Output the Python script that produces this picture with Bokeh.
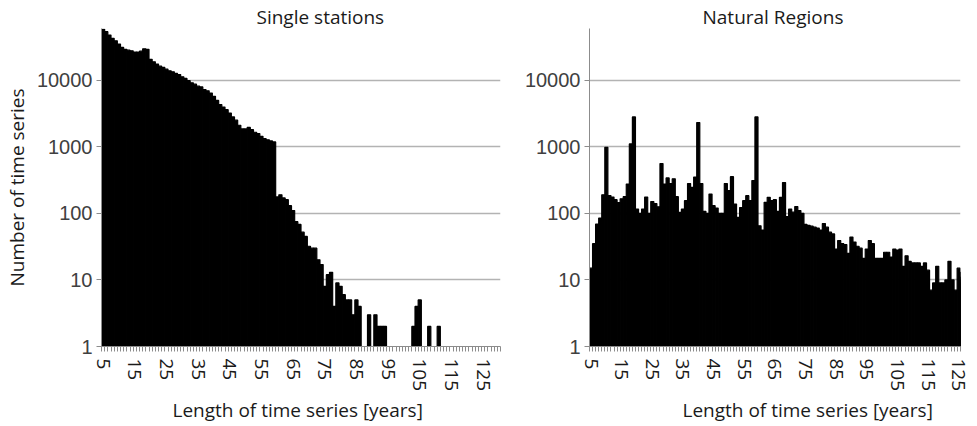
from bokeh.plotting import figure
from bokeh.models import Range1d, FixedTicker, Title, ColumnDataSource, CDSView, BooleanFilter
from bokeh.layouts import row
from bokeh.embed import file_html
from bokeh.resources import INLINE

years = list(range(5, 131))

single_stations = [
    57800, 53300, 47500, 42400, 39000, 34800, 31000, 29000, 28200, 27600,   # 5-14
    26400, 26400, 27200, 29600, 29000, 20500, 18800, 17400, 16200, 15500,   # 15-24
    14600, 13800, 13300, 12600, 12100, 11200, 10600, 9800, 9100, 8700,      # 25-34
    8100, 7900, 7200, 6900, 6400, 5700, 4950, 4300, 3950, 3600,             # 35-44
    3200, 2800, 2500, 2100, 1850, 1850, 1950, 1800, 1650, 1580,             # 45-54
    1430, 1320, 1270, 1220, 1180, 176, 190, 170, 160, 130,                  # 55-64
    110, 75, 68, 52, 45, 32, 30, 30, 20, 17,                                # 65-74
    8, 12, 13, 4, 9, 8, 6, 5, 5, 3,                                         # 75-84
    5, 4, 1, 1, 3, 1, 3, 2, 2, 2,                                           # 85-94
    1, 1, 1, 1, 1, 1, 1, 1, 2, 4,                                           # 95-104
    5, 1, 1, 2, 1, 1, 2, 1, 1, 1,                                           # 105-114
    1, 1, 1, 1, 1, 1, 1, 1, 1, 1,                                           # 115-124
    1, 1, 1, 1, 1, 1,                                                       # 125-130
]

natural_regions = [
    15, 35, 69, 85, 190, 980, 185, 175, 160, 145,                           # 5-14
    165, 178, 275, 1100, 2800, 116, 100, 116, 175, 100,                     # 15-24
    150, 140, 125, 560, 275, 340, 280, 330, 178, 103,                       # 25-34
    116, 155, 280, 245, 350, 2300, 280, 107, 100, 195,                      # 35-44
    130, 120, 100, 100, 280, 220, 355, 138, 87, 122,                        # 45-54
    155, 184, 155, 310, 2800, 65, 56, 146, 174, 155,                        # 55-64
    160, 107, 174, 290, 89, 116, 104, 126, 110, 100,                        # 65-74
    68, 66, 64, 62, 60, 56, 70, 62, 52, 49,                                 # 75-84
    29, 39, 35, 34, 25, 44, 37, 32, 30, 21,                                 # 85-94
    29, 39, 35, 21, 21, 21, 26, 26, 22, 29,                                 # 95-104
    28, 29, 16, 23, 19, 18, 18, 18, 16, 18,                                 # 105-114
    14, 7, 9, 16, 9, 9, 10, 19, 10, 7,                                      # 115-124
    15, 8, 13, 10, 9, 11,                                                   # 125-130
]

x_tick_labels = list(range(5, 131, 10))
y_tick_values = [1, 10, 100, 1000, 10000]
y_tick_text = ["1", "10", "100", "1000", "10000"]

TEXT = "#1a1a1a"
AXIS = "#8c8c8c"
GRID = "#b3b3b3"
FONT = "Open Sans"


def make_panel(title, values, width, left_border, right_border, x_end, show_ylabel,
               title_offset, xlabel_offset):
    p = figure(width=width, height=424, y_axis_type="log",
               x_range=Range1d(4.5, x_end), y_range=Range1d(1, 10 ** 4.775),
               output_backend="svg", toolbar_location=None,
               min_border_left=left_border, min_border_right=right_border,
               min_border_top=28, min_border_bottom=78)
    p.outline_line_color = None
    p.background_fill_color = "white"
    p.border_fill_color = "white"

    src = ColumnDataSource(dict(x=years, top=values))
    view = CDSView(filter=BooleanFilter([v > 1 for v in values]))
    p.vbar(x="x", top="top", bottom=1, width=1.0, source=src, view=view,
           fill_color="black", line_color="black", line_width=1.2)

    t = Title(text=title, align="left", offset=title_offset,
              text_font=FONT, text_font_size="19px",
              text_font_style="normal", text_color=TEXT, standoff=-3)
    p.add_layout(t, "above")

    # x axis
    xa = p.xaxis[0]
    xa.ticker = FixedTicker(ticks=x_tick_labels,
                            minor_ticks=[y + 0.5 for y in range(4, 131)])
    xa.major_label_orientation = "vertical"
    xa.major_label_text_font = FONT
    xa.major_label_text_font_size = "19px"
    xa.major_label_text_color = TEXT
    xa.major_tick_line_color = None
    xa.major_tick_out = 5
    xa.major_tick_in = 0
    xa.major_label_standoff = 7
    xa.minor_tick_line_color = AXIS
    xa.minor_tick_out = 5
    xa.minor_tick_in = 0
    xa.axis_line_color = AXIS

    xt = Title(text="Length of time series [years]", align="left",
               offset=xlabel_offset, text_font=FONT,
               text_font_size="19px", text_font_style="normal",
               text_color=TEXT, standoff=0)
    p.add_layout(xt, "below")

    # y axis
    ya = p.yaxis[0]
    ya.ticker = FixedTicker(ticks=y_tick_values, minor_ticks=[])
    ya.major_label_overrides = {v: s for v, s in zip(y_tick_values, y_tick_text)}
    ya.major_label_text_font = "Liberation Sans"
    ya.major_label_text_font_size = "20px"
    ya.major_label_text_color = "#404040"
    ya.major_tick_line_color = AXIS
    ya.major_tick_out = 5
    ya.major_tick_in = 0
    ya.major_label_standoff = 4
    ya.minor_tick_line_color = None
    ya.axis_line_color = AXIS
    if show_ylabel:
        ya.axis_label = "Number of time series"
        ya.axis_label_text_font = FONT
        ya.axis_label_text_font_size = "19px"
        ya.axis_label_text_font_style = "normal"
        ya.axis_label_text_color = TEXT
        ya.axis_label_standoff = 4

    p.xgrid.grid_line_color = None
    p.ygrid.ticker = FixedTicker(ticks=y_tick_values[1:])
    p.ygrid.grid_line_color = GRID
    p.ygrid.grid_line_width = 1.5
    return p


left = make_panel("Single stations", single_stations, 520, 101, 20, 130.5, True, 155, 71)
right = make_panel("Natural Regions", natural_regions, 457, 69, 17, 125.6, False, 113, 93)

layout = row(left, right)
open("out.html", "w").write(file_html(layout, INLINE))
